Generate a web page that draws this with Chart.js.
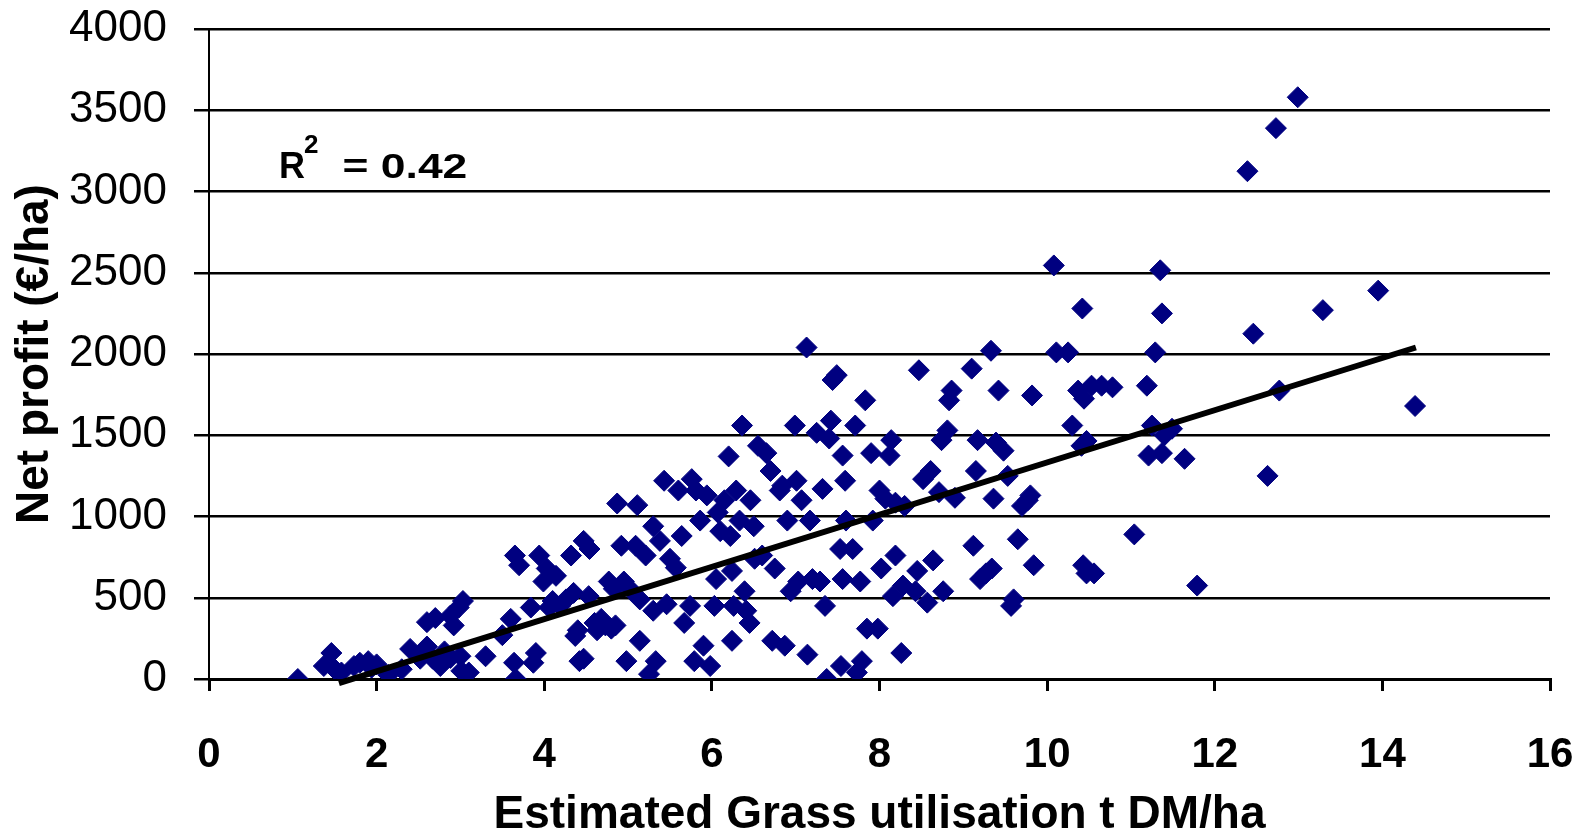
<html>
<head>
    <title>Net profit vs grass utilisation</title>
    <script src="https://cdn.jsdelivr.net/npm/chart.js"></script>
    <style>
        body { margin: 0; background: #fff; }
    </style>
</head>
<body>
    <canvas id="scatterChart" width="1574" height="828"></canvas>
    <script>
        // farm data
        const grassUtil = [
            1.06, 1.37, 1.46, 1.5, 1.58, 1.73, 1.8, 1.9, 1.94, 2.0, 2.14, 2.3, 2.4, 2.52, 2.6, 2.6, 2.7, 2.67, 2.76, 2.81,
            2.88, 2.88, 2.92, 2.98, 3.03, 3.01, 3.1, 3.0, 3.3, 3.5, 3.6, 3.64, 3.66, 3.65, 3.7, 3.84, 3.87, 3.9, 3.94, 3.99,
            4.03, 4.06, 4.1, 4.14, 4.19, 4.26, 4.32, 4.35, 4.37, 4.42, 4.47, 4.4, 4.47, 4.54, 4.53, 4.6, 4.63, 4.68, 4.73, 4.8,
            4.85, 4.77, 4.83, 4.87, 4.92, 4.95, 4.98, 5.02, 5.09, 5.11, 5.14, 5.14, 5.21, 5.25, 5.3, 5.33, 5.3, 5.38, 5.43, 5.46,
            5.5, 5.57, 5.6, 5.64, 5.67, 5.74, 5.76, 5.79, 5.81, 5.86, 5.9, 5.94, 5.98, 6.03, 6.05, 6.07, 6.1, 6.15, 6.2, 6.22,
            6.24, 6.24, 6.26, 6.29, 6.33, 6.36, 6.39, 6.41, 6.45, 6.46, 6.5, 6.51, 6.55, 6.6, 6.65, 6.7, 6.72, 6.75, 6.81, 6.84,
            6.87, 6.9, 6.94, 6.99, 7.01, 7.03, 7.07, 7.13, 7.14, 7.17, 7.2, 7.25, 7.29, 7.32, 7.35, 7.37, 7.4, 7.42, 7.44, 7.49,
            7.53, 7.54, 7.56, 7.56, 7.59, 7.6, 7.68, 7.71, 7.73, 7.77, 7.79, 7.83, 7.85, 7.9, 7.92, 7.98, 8.0, 8.02, 8.07, 8.12,
            8.14, 8.16, 8.19, 8.19, 8.26, 8.28, 8.3, 8.43, 8.45, 8.47, 8.52, 8.57, 8.61, 8.64, 8.71, 8.74, 8.76, 8.81, 8.83, 8.86,
            8.9, 9.12, 9.15, 9.1, 9.17, 9.2, 9.27, 9.33, 9.34, 9.36, 9.39, 9.42, 9.48, 9.53, 9.57, 9.6, 9.65, 9.7, 9.77, 9.82,
            9.84, 9.8, 10.08, 10.11, 10.25, 10.3, 10.37, 10.42, 10.44, 10.41, 10.47, 10.43, 10.47, 10.56, 10.53, 10.65, 10.78, 11.04, 11.19, 11.29,
            11.21, 11.25, 11.35, 11.37, 11.37, 11.4, 11.49, 11.64, 11.79, 12.39, 12.46, 12.63, 12.73, 12.77, 12.99, 13.29, 13.95, 14.39
        ];
        const netProfit = [
            0, 80, 160, 60, 40, 80, 100, 110, 70, 90, 25, 60, 185, 125, 200, 350, 375, 125, 80, 170,
            390, 130, 330, 440, 480, 50, 40, 140, 140, 270, 370, 100, 0, 760, 700, 440, 100, 160, 760, 600,
            680, 440, 480, 635, 450, 490, 760, 530, 265, 110, 125, 300, 850, 800, 510, 345, 300, 370, 330, 310,
            330, 600, 555, 1080, 820, 600, 110, 555, 820, 1070, 490, 235, 760, 30, 420, 110, 940, 850, 1220, 460,
            740, 685, 1160, 880, 345, 450, 1230, 110, 1160, 975, 205, 1130, 80, 450, 615, 1025, 910, 1100, 1370, 880,
            665, 235, 450, 1160, 975, 1560, 540, 420, 345, 1100, 940, 740, 1435, 760, 1390, 1280, 235, 680, 1160, 1190,
            205, 975, 540, 1560, 1220, 600, 1100, 2040, 150, 975, 615, 1515, 600, 1170, 450, 0, 1480, 1590, 1840, 1870,
            800, 80, 615, 1375, 1220, 975, 800, 1560, 40, 600, 110, 1715, 310, 1390, 975, 310, 1160, 680, 1110, 1375,
            1470, 510, 1085, 760, 160, 575, 1065, 540, 665, 1900, 1230, 470, 1280, 730, 1150, 1470, 540, 1530, 1715, 1775,
            1115, 820, 1280, 1910, 1470, 615, 650, 2020, 680, 1110, 1455, 1775, 1405, 1250, 450, 490, 860, 1065, 1100, 1745,
            700, 1130, 2545, 2010, 2010, 1560, 1775, 2280, 1725, 1435, 1465, 700, 650, 650, 1805, 1805, 1795, 890, 1805, 2010,
            1375, 1560, 2515, 2250, 1390, 1500, 1540, 1355, 575, 3125, 2125, 1250, 3390, 1775, 3580, 2270, 2390, 1680
        ];

        // ends of the linear trend line
        const trendX = [1.55, 14.4];
        const trendY = [-25, 2040];

        const xTicks = [0, 2, 4, 6, 8, 10, 12, 14, 16];
        const yTicks = [0, 500, 1000, 1500, 2000, 2500, 3000, 3500, 4000];

        const FONT = "'Liberation Sans', Arial, sans-serif";

        const points = grassUtil.map((x, i) => ({ x: x, y: netProfit[i] }));
        const trend = trendX.map((x, i) => ({ x: x, y: trendY[i] }));

        // R squared label in the top left of the plot
        const r2Label = {
            id: 'r2Label',
            afterDatasetsDraw(chart) {
                const ctx = chart.ctx;
                const left = chart.chartArea.left;
                const top = chart.chartArea.top;
                ctx.save();
                ctx.fillStyle = '#000';
                ctx.textBaseline = 'alphabetic';
                ctx.translate(left + 70, top + 149);
                ctx.font = 'bold 36px ' + FONT;
                ctx.fillText('R', 0, 0);
                ctx.font = 'bold 26px ' + FONT;
                ctx.fillText('2', 25, -25);
                ctx.scale(1.27, 1);
                ctx.font = 'bold 35px ' + FONT;
                ctx.fillText('= 0.42', 50, 0);
                ctx.restore();
            }
        };

        new Chart(document.getElementById('scatterChart').getContext('2d'), {
            type: 'scatter',
            data: {
                datasets: [
                    {
                        type: 'line',
                        data: trend,
                        borderColor: '#000',
                        borderWidth: 6,
                        pointRadius: 0,
                        fill: false,
                        clip: false
                    },
                    {
                        data: points,
                        pointStyle: 'rectRot',
                        pointRadius: 10.5,
                        backgroundColor: '#000080',
                        borderColor: '#000080',
                        borderWidth: 1
                    }
                ]
            },
            options: {
                responsive: false,
                animation: false,
                layout: { padding: { top: 29, right: 24, left: 0, bottom: 0 } },
                plugins: {
                    legend: { display: false },
                    tooltip: { enabled: false }
                },
                scales: {
                    x: {
                        type: 'linear',
                        min: 0,
                        max: 16,
                        afterBuildTicks: s => { s.ticks = xTicks.map(v => ({ value: v })); },
                        afterFit: s => {
                            s.height = 149;
                            s.paddingLeft = 0;
                            s.paddingRight = 0;
                        },
                        ticks: {
                            color: '#000',
                            font: { family: FONT, size: 42, weight: 'bold' },
                            padding: 39,
                            maxRotation: 0,
                            callback: v => String(v)
                        },
                        grid: {
                            drawOnChartArea: false,
                            color: '#000',
                            lineWidth: 3,
                            tickLength: 12
                        },
                        border: { color: '#000', width: 3 },
                        title: {
                            display: true,
                            text: 'Estimated Grass utilisation t DM/ha',
                            color: '#000',
                            font: { family: FONT, size: 46, weight: 'bold', lineHeight: 1 },
                            padding: { top: 0, bottom: -10 }
                        }
                    },
                    y: {
                        min: 0,
                        max: 4000,
                        afterBuildTicks: s => { s.ticks = yTicks.map(v => ({ value: v })); },
                        afterFit: s => {
                            s.width = 209;
                            s.paddingTop = 0;
                            s.paddingBottom = 0;
                        },
                        ticks: {
                            color: '#000',
                            font: { family: FONT, size: 44 },
                            padding: 27,
                            callback: v => String(v)
                        },
                        grid: {
                            color: '#000',
                            lineWidth: 2.5,
                            tickLength: 15
                        },
                        border: { color: '#000', width: 2 },
                        title: {
                            display: true,
                            text: 'Net profit (€/ha)',
                            color: '#000',
                            font: { family: FONT, size: 46, weight: 'bold', lineHeight: 1 },
                            padding: { top: 12, bottom: 0 }
                        }
                    }
                }
            },
            plugins: [r2Label]
        });
    </script>
</body>
</html>
